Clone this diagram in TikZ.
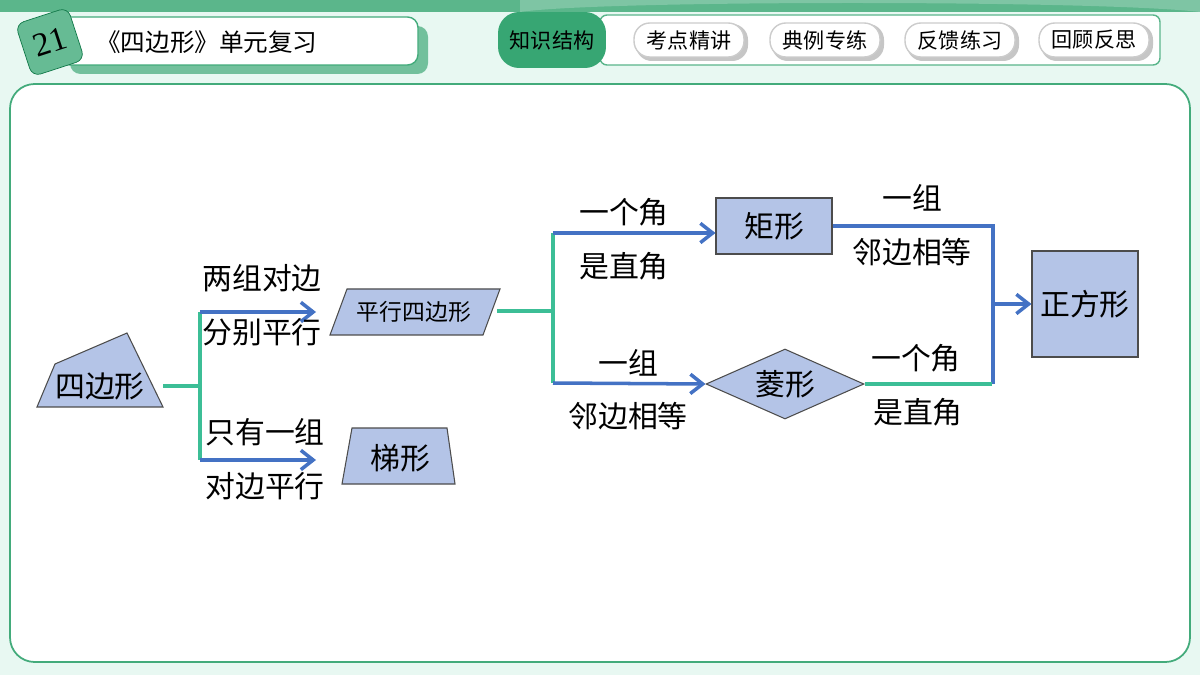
\documentclass[tikz,border=0pt]{standalone}
\usepackage{fontspec}
\setmainfont{Noto Sans CJK SC}
\newfontfamily\numfont{Liberation Serif}
\usetikzlibrary{shapes.geometric,arrows.meta}
\definecolor{boxblue}{RGB}{180,196,231}
\definecolor{lineblue}{RGB}{68,114,196}
\definecolor{linegreen}{RGB}{60,190,150}
\definecolor{deepgreen}{RGB}{20,150,90}
\definecolor{mint}{RGB}{232,248,242}
\tikzset{
  shp/.style={draw=black!70,fill=boxblue,line width=0.6pt},
  lbl/.style={font=\fontsize{17}{17}\selectfont,inner sep=0pt},
  trunk/.style={draw=linegreen,line width=2pt},
  arr/.style={draw=lineblue,line width=2pt,-{Straight Barb[length=7pt,width=11pt]}},
  pill/.style={draw=gray!40,fill=white,rounded corners=9pt,line width=0.8pt},
}
\begin{document}
\begin{tikzpicture}[x=0.02cm,y=-0.02cm]
    % Background
    \fill[mint] (0,0) rectangle (1200,675);
    \fill[deepgreen!70!white] (0,0) rectangle (1200,12);
    \fill[deepgreen!55!white] (520,12) .. controls (600,0) and (1100,0) .. (1200,12) -- (1200,0) -- (520,0) -- cycle;
    \draw[white,fill=white,draw=deepgreen!80,line width=1pt,rounded corners=14pt] (10,84) rectangle (1190,662);

    % Header
    \fill[deepgreen!60,rounded corners=6pt] (70,26) rectangle (428,74);
    \draw[fill=white,draw=deepgreen!80,line width=0.8pt,rounded corners=6pt] (60,17) rectangle (418,65);
    \node[draw=deepgreen!80!black,fill=deepgreen!65,rounded corners=5pt,minimum size=1.1cm,rotate=18,
      font=\numfont\fontsize{19}{19}\selectfont] (num) at (50,42) {21};
    \node[anchor=west,font=\fontsize{14}{14}\selectfont] (title) at (90,42) {《四边形》单元复习};
    \draw[draw=deepgreen!70,fill=white,line width=0.8pt,rounded corners=4pt] (600,15) rectangle (1160,65);
    \node[fill=deepgreen!85,text=black,rounded corners=12pt,minimum width=2.16cm,minimum height=1.12cm,font=\fontsize{12}{12}\selectfont] (t1) at (552,40) {知识结构};
    \foreach \x/\t in {689/考点精讲,825/典例专练,960/反馈练习,1094/回顾反思}{
      \fill[gray!45,rounded corners=9pt] (\x-53,24) rectangle (\x+59,61);
      \node[pill,minimum width=2.2cm,minimum height=0.68cm,font=\fontsize{12}{12}\selectfont] at (\x,40) {\t};
    }

    % Shapes
    \draw[shp] (37,407) -- (55,364) -- (127,333) -- (163,407) -- cycle;
    \node[lbl] (quad) at (100,386) {四边形};
    \draw[shp] (330,335) -- (347,289) -- (500,289) -- (483,335) -- cycle;
    \node[lbl,font=\fontsize{13}{13}\selectfont] (para) at (414,312) {平行四边形};
    \draw[shp] (342,484) -- (352,428) -- (447,428) -- (455,484) -- cycle;
    \node[lbl] (trap) at (400,458) {梯形};
    \node[shp,minimum width=2.32cm,minimum height=1.12cm,lbl] (rect) at (774,226) {矩形};
    \node[shp,diamond,aspect=2.26,minimum width=3.16cm,minimum height=1.4cm,inner sep=0pt,font=\fontsize{17}{17}\selectfont] (rhom) at (785,384) {菱形};
    \node[shp,minimum width=2.12cm,minimum height=2.12cm,font=\fontsize{17}{17}\selectfont] (sq) at (1085,304) {正方形};

    % Connectors
    \coordinate (j1) at (200,386);
    \coordinate (p1) at (497,311);
    \coordinate (j2) at (553,311);
    \coordinate (j3) at (993,304);
    \draw[trunk] (163,386) -- (j1);
    \draw[trunk] (200,312) -- (200,460);
    \draw[arr] (200,312) -- (316,312);
    \draw[arr] (200,460) -- (316,460);
    \draw[trunk] (p1) -- (j2);
    \draw[trunk] (553,233) -- (553,383);
    \draw[arr] (553,233) -- (rect.west |- 0,233);
    \draw[arr] (553,383) -- (rhom.west);
    \draw[lineblue,line width=2pt] (rect.east) -- (993,226) -- (993,384);
    \draw[trunk] (rhom.east) -- (992,384);
    \draw[arr] (j3) -- (sq.west);

    % Labels
    \node[lbl] at (262,278) {两组对边};
    \node[lbl] at (262,332) {分别平行};
    \node[lbl] at (265,432) {只有一组};
    \node[lbl] at (265,486) {对边平行};
    \node[lbl] at (624,212) {一个角};
    \node[lbl] at (624,266) {是直角};
    \node[lbl] at (628,363) {一组};
    \node[lbl] at (628,416) {邻边相等};
    \node[lbl] at (912,198) {一组};
    \node[lbl] at (912,252) {邻边相等};
    \node[lbl] at (916,358) {一个角};
    \node[lbl] at (918,412) {是直角};
\end{tikzpicture}
\end{document}
